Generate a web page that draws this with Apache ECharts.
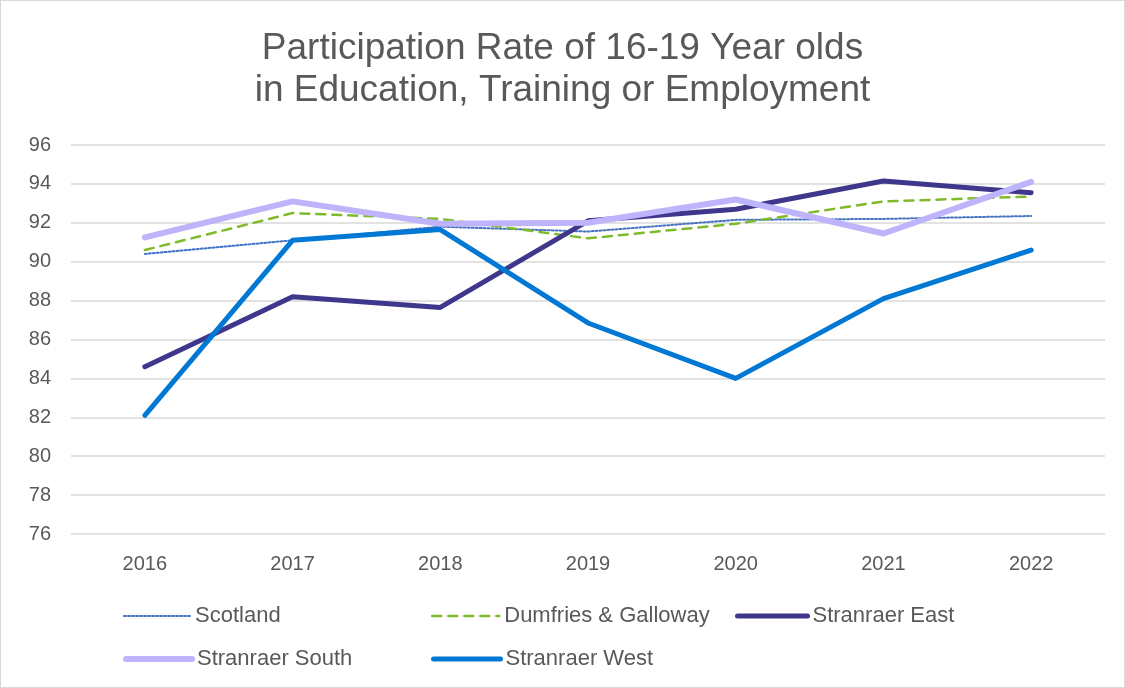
<!DOCTYPE html>
<html>
<head>
<meta charset="utf-8">
<title>Participation Rate</title>
<script src="https://cdn.jsdelivr.net/npm/echarts@6/dist/echarts.min.js"></script>
<style>
  html, body { margin: 0; padding: 0; background: #fff; }
  #main { width: 1123px; height: 686px; border: 1px solid #d9d9d9; }
</style>
</head>
<body>
<div id="main"></div>
<script type="text/javascript">
// data
var years = ['2016', '2017', '2018', '2019', '2020', '2021', '2022'];
var seriesNames = ['Scotland', 'Dumfries & Galloway', 'Stranraer East', 'Stranraer South', 'Stranraer West'];
var scotland = [90.4, 91.1, 91.8, 91.55, 92.15, 92.2, 92.35];
var dumfries = [90.6, 92.5, 92.2, 91.2, 91.95, 93.1, 93.35];
var stranraerEast = [84.6, 88.2, 87.65, 92.1, 92.7, 94.15, 93.55];
var stranraerSouth = [91.25, 93.1, 91.95, 92.0, 93.2, 91.45, 94.1];
var stranraerWest = [82.1, 91.1, 91.65, 86.85, 84.0, 88.1, 90.6];

var myChart = echarts.init(document.getElementById('main'));

var font = 'Liberation Sans, Arial, sans-serif';
var grey = '#595959';

var styles = [
    { color: '#4472c4', width: 2, type: 'dotted' },
    { color: '#7fba2a', width: 2.5, type: [9, 7] },
    { color: '#3f378c', width: 5, type: 'solid' },
    { color: '#bdb4fb', width: 6, type: 'solid' },
    { color: '#0078d4', width: 5, type: 'solid' }
];
// legend slots: [left, top, icon width]
var legendPos = [[117, 599, 66], [425, 599, 67], [729, 599, 70], [117, 642, 66], [425, 642, 67]];

function line(i, data) {
    var s = styles[i];
    return {
        name: seriesNames[i],
        type: 'line',
        data: data,
        symbol: 'none',
        lineStyle: { color: s.color, width: s.width, type: s.type, cap: 'round', join: 'round' },
        itemStyle: { color: s.color },
        emphasis: { disabled: true }
    };
}

var legends = seriesNames.map(function (name, i) {
    var s = styles[i];
    var p = legendPos[i];
    return {
        left: p[0],
        top: p[1],
        itemWidth: p[2],
        itemHeight: 14,
        itemStyle: { opacity: 0 },
        textStyle: { fontFamily: font, fontSize: 22, color: grey },
        selectedMode: false,
        data: [{ name: name, lineStyle: { color: s.color, width: s.width, type: s.type, cap: 'round' } }]
    };
});

var option = {
    animation: false,
    title: {
        text: 'Participation Rate of 16-19 Year olds\nin Education, Training or Employment',
        left: 'center',
        top: 22,
        textStyle: { fontFamily: font, fontSize: 37, fontWeight: 'normal', color: grey, lineHeight: 42 }
    },
    legend: legends,
    grid: { left: 70, right: 19, top: 144, bottom: 153 },
    xAxis: {
        type: 'category',
        data: years,
        boundaryGap: true,
        axisLine: { show: false },
        axisTick: { show: false },
        axisLabel: { fontFamily: font, fontSize: 20, color: grey, margin: 20 }
    },
    yAxis: {
        type: 'value',
        min: 76,
        max: 96,
        interval: 2,
        axisLine: { show: false },
        axisTick: { show: false },
        axisLabel: { fontFamily: font, fontSize: 20, color: grey, margin: 20 },
        splitLine: { lineStyle: { color: '#d9d9d9', width: 1.5 } }
    },
    series: [
        line(0, scotland),
        line(1, dumfries),
        line(2, stranraerEast),
        line(3, stranraerSouth),
        line(4, stranraerWest)
    ]
};

myChart.setOption(option);
</script>
</body>
</html>
